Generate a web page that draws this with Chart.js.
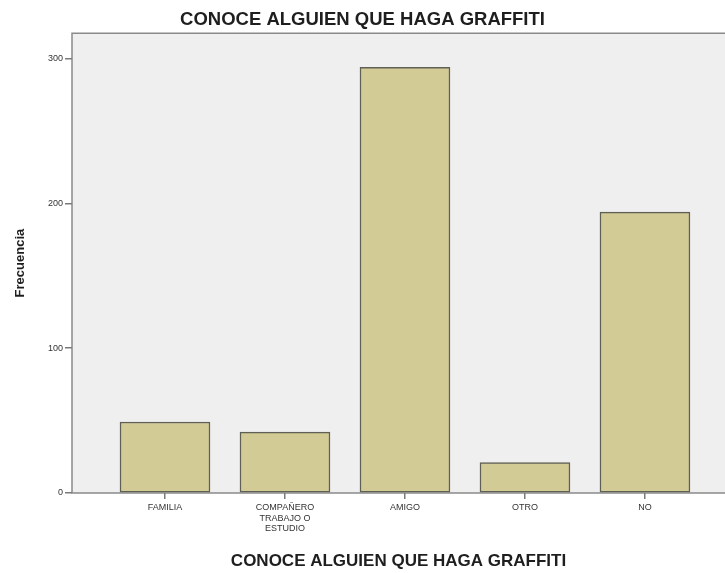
<!DOCTYPE html>
<html lang="es">
<head>
<meta charset="utf-8">
<title>Conoce alguien que haga graffiti</title>
<script src="https://cdn.jsdelivr.net/npm/chart.js@4"></script>
<style>
    html, body { margin: 0; padding: 0; background: #ffffff; }
    #wrap { width: 725px; height: 573px; }
</style>
</head>
<body>
<div id="wrap"><canvas id="grafico"></canvas></div>
<script>
// Datos
const categorias = ['FAMILIA', 'COMPAÑERO\nTRABAJO O\nESTUDIO', 'AMIGO', 'OTRO', 'NO'];
const frecuencias = [49, 42, 294, 21, 194];
const ticksY = [0, 100, 200, 300];
const tituloGrafico = 'CONOCE ALGUIEN QUE HAGA GRAFFITI';
const tituloEjeX = 'CONOCE ALGUIEN QUE HAGA GRAFFITI';
const tituloEjeY = 'Frecuencia';

document.addEventListener('DOMContentLoaded', () => {
    const ctx = document.getElementById('grafico').getContext('2d');
    const fuente = "'Liberation Sans', Arial, sans-serif";

    // Fondo gris claro y marco del área de trazado
    const fondoArea = {
        id: 'fondoArea',
        beforeDraw(chart) {
            const { ctx, chartArea: a } = chart;
            ctx.save();
            ctx.fillStyle = '#efefef';
            ctx.fillRect(a.left, a.top, a.right - a.left, a.bottom - a.top);
            ctx.strokeStyle = '#8a8a8a';
            ctx.lineWidth = 1.5;
            ctx.beginPath();
            ctx.moveTo(a.right + 2, a.top);
            ctx.lineTo(a.left, a.top);
            ctx.lineTo(a.left, a.bottom);
            ctx.lineTo(a.right + 2, a.bottom);
            ctx.stroke();
            ctx.restore();
        }
    };

    new Chart(ctx, {
        type: 'bar',
        data: {
            datasets: [{
                label: tituloEjeY,
                data: frecuencias.map((v, i) => ({ x: i, y: v })),
                backgroundColor: '#d3cb96',
                borderColor: '#5f5f55',
                borderWidth: 1.5,
                borderSkipped: false,
                barThickness: 90
            }]
        },
        options: {
            responsive: true,
            maintainAspectRatio: false,
            animation: false,
            layout: { padding: 0 },
            plugins: {
                legend: { display: false },
                tooltip: { enabled: false },
                title: {
                    display: true,
                    text: tituloGrafico,
                    color: '#1e1e1e',
                    font: { family: fuente, size: 18.5, weight: 'bold' },
                    padding: { top: 9, bottom: 2 }
                }
            },
            scales: {
                x: {
                    type: 'linear',
                    min: -0.775,
                    max: 4.667,
                    offset: false,
                    afterFit(scale) { scale.height = 80; },
                    grid: {
                        display: true,
                        offset: false,
                        drawOnChartArea: false,
                        color: '#7a7a7a',
                        lineWidth: 1.5,
                        tickLength: 6
                    },
                    border: { display: false },
                    ticks: {
                        stepSize: 1,
                        includeBounds: false,
                        autoSkip: false,
                        maxRotation: 0,
                        padding: 3,
                        color: '#333333',
                        font: { family: fuente, size: 9 },
                        callback: (value) => {
                            const etiqueta = categorias[value];
                            return etiqueta === undefined ? '' : etiqueta.split('\n');
                        }
                    },
                    title: {
                        display: true,
                        text: tituloEjeX,
                        color: '#1e1e1e',
                        font: { family: fuente, size: 17, weight: 'bold' },
                        padding: { top: 0, bottom: 1 }
                    }
                },
                y: {
                    min: 0,
                    max: 317.5,
                    afterFit(scale) { scale.width = 72; },
                    afterBuildTicks(scale) {
                        scale.ticks = ticksY.map(v => ({ value: v }));
                    },
                    grid: {
                        display: true,
                        drawOnChartArea: false,
                        color: '#7a7a7a',
                        lineWidth: 1.5,
                        tickLength: 7
                    },
                    border: { display: false },
                    ticks: {
                        padding: 2,
                        color: '#333333',
                        font: { family: fuente, size: 9 }
                    },
                    title: {
                        display: true,
                        text: tituloEjeY,
                        color: '#1e1e1e',
                        font: { family: fuente, size: 13, weight: 'bold' },
                        padding: { top: 13, bottom: 0 }
                    }
                }
            }
        },
        plugins: [fondoArea]
    });
});
</script>
</body>
</html>
